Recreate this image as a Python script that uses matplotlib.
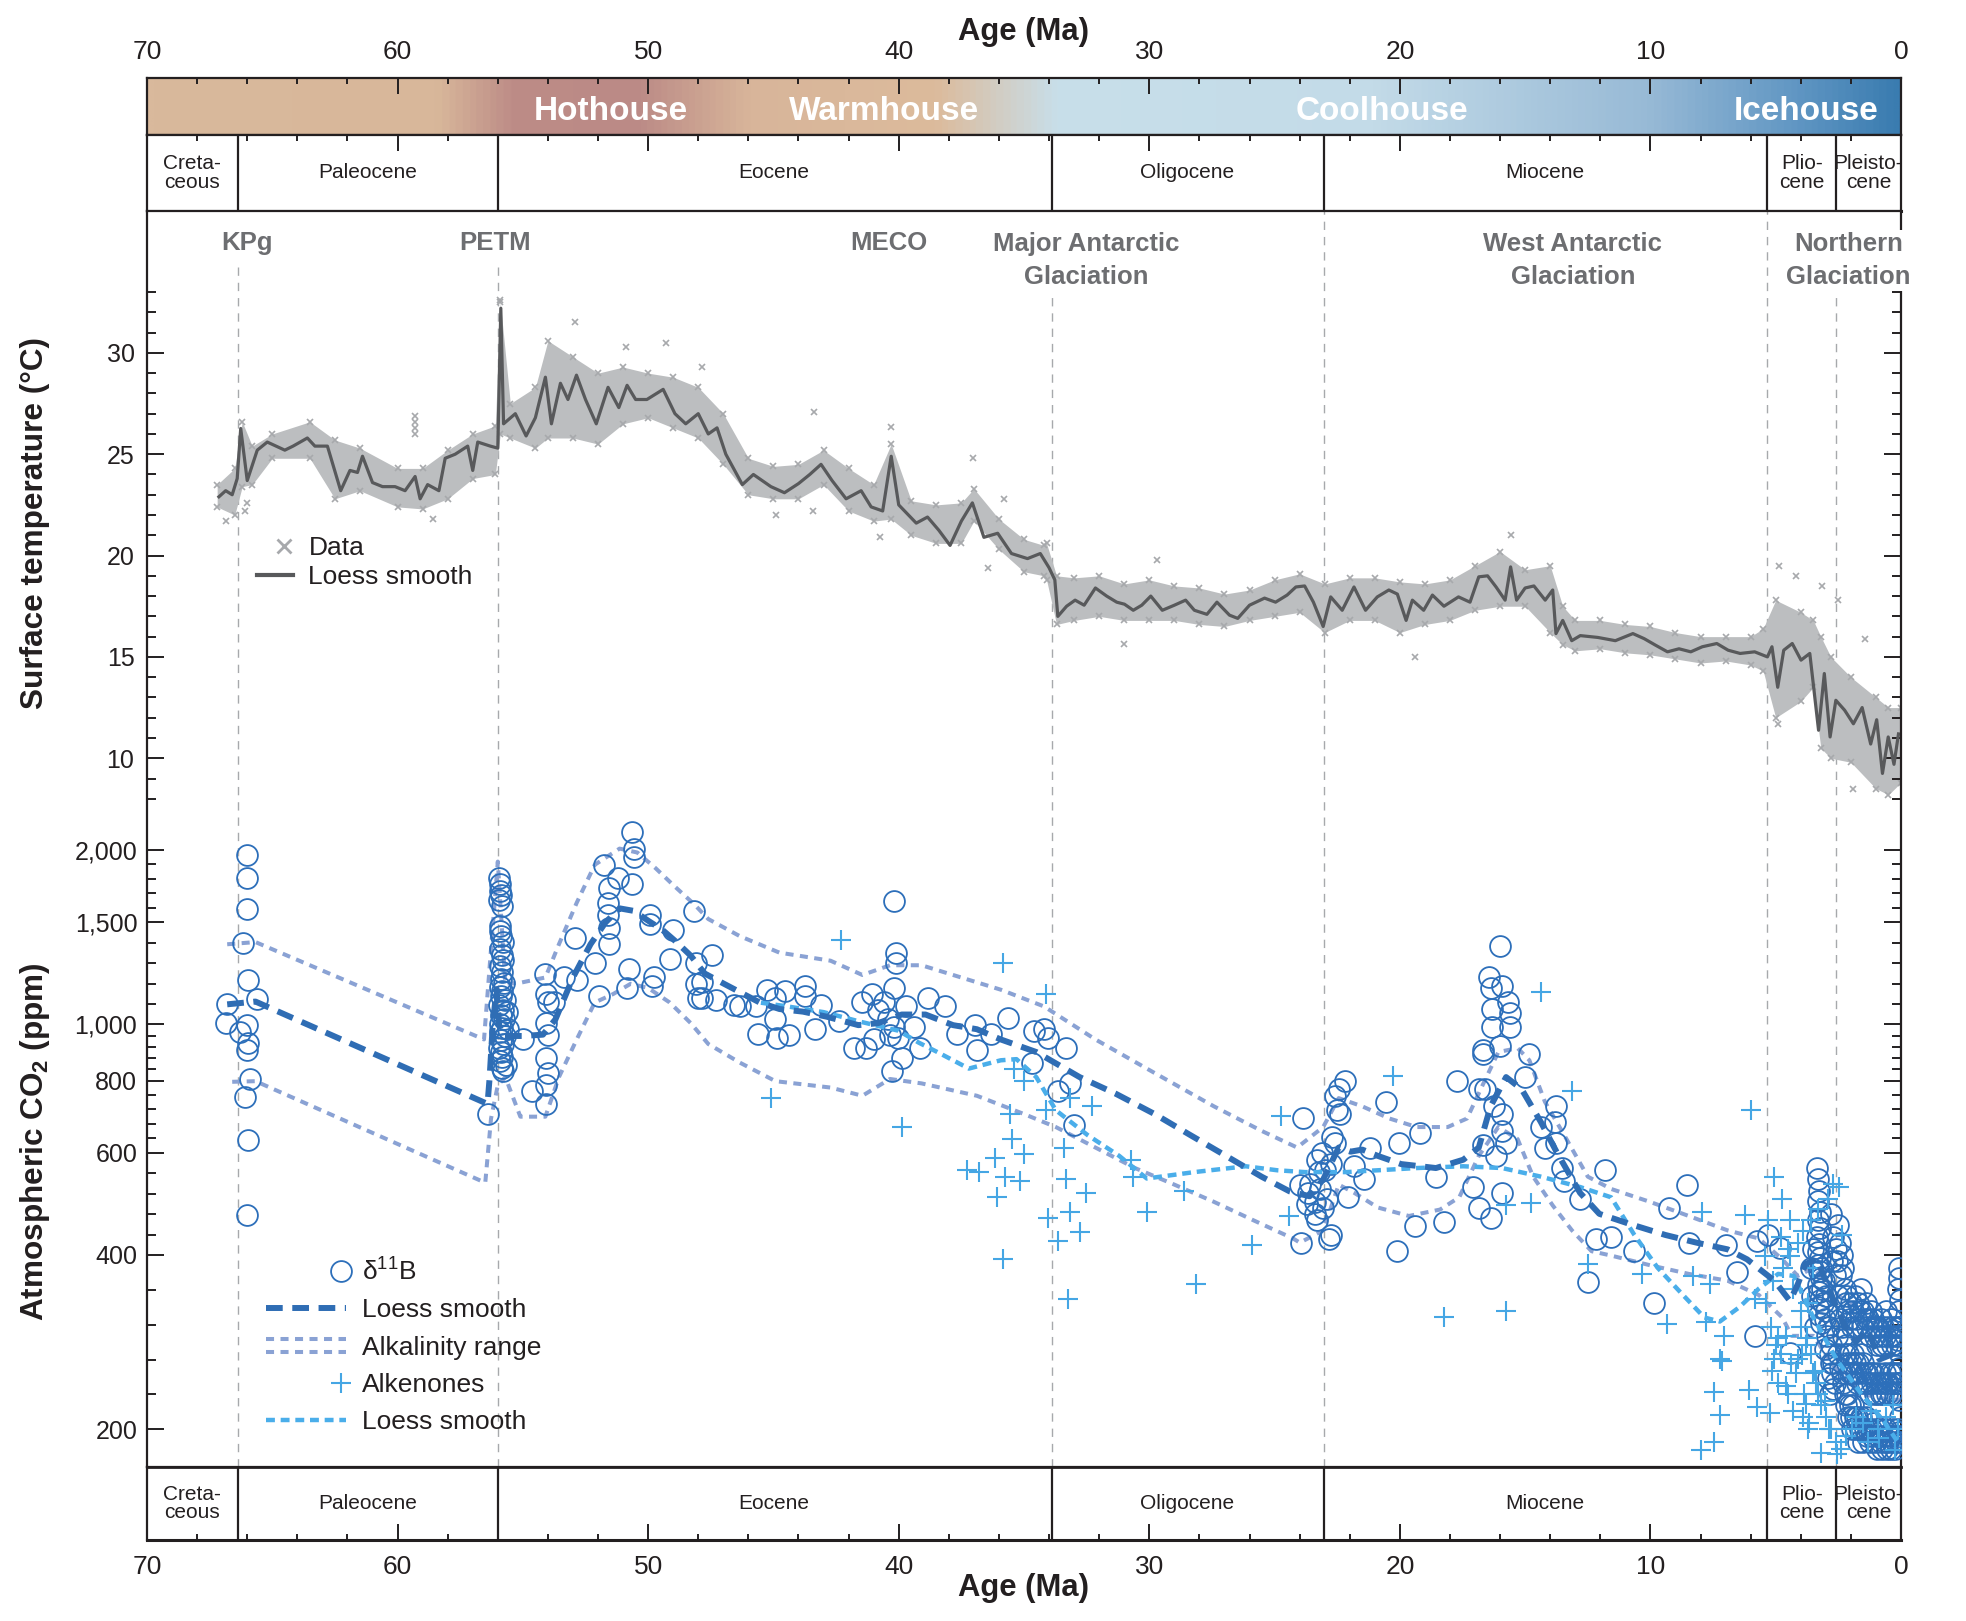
import matplotlib
matplotlib.use("Agg")
import matplotlib.pyplot as plt
import numpy as np
from matplotlib.colors import LinearSegmentedColormap
from matplotlib.legend_handler import HandlerBase
from matplotlib.lines import Line2D
from matplotlib.ticker import FixedLocator, FixedFormatter, NullFormatter

plt.rcParams['font.family'] = ['Liberation Sans', 'DejaVu Sans']
plt.rcParams['mathtext.fontset'] = 'custom'
plt.rcParams['mathtext.rm'] = 'Liberation Sans'
plt.rcParams['mathtext.it'] = 'Liberation Sans:italic'
plt.rcParams['mathtext.bf'] = 'Liberation Sans:bold'

# ---------------- data ----------------
epoch_bounds = [66.35, 56.0, 33.9, 23.03, 5.33, 2.58]
epoch_names = [(68.2, 'Creta-\nceous'), (61.2, 'Paleocene'), (45.0, 'Eocene'),
               (28.5, 'Oligocene'), (14.2, 'Miocene'), (3.95, 'Plio-\ncene'),
               (1.3, 'Pleisto-\ncene')]
climate_states = [(51.5, 'Hothouse'), (40.6, 'Warmhouse'), (20.7, 'Coolhouse'), (3.8, 'Icehouse')]
events = [(66.0, 35.4, 'KPg'), (56.1, 35.4, 'PETM'), (40.4, 35.4, 'MECO'),
          (32.5, 34.55, 'Major Antarctic\nGlaciation'), (13.1, 34.55, 'West Antarctic\nGlaciation'),
          (2.1, 34.55, 'Northern\nGlaciation')]
# top of the dashed guide lines (deg C units)
guide_tops = [34.4, 34.4, 32.8, 37.0, 37.0, 32.8]

temp_loess = [
    (67.13, 22.9), (66.86, 23.2), (66.6, 23.0), (66.4, 23.8), (66.26, 26.27), (66.0, 23.7), (65.6, 25.2),
    (65.2, 25.6), (64.85, 25.4), (64.5, 25.2), (64.17, 25.4), (63.6, 25.8), (63.3, 25.4), (62.8, 25.4),
    (62.27, 23.2), (61.9, 24.2), (61.6, 24.1), (61.4, 24.9), (61.0, 23.6), (60.6, 23.4), (60.1, 23.4),
    (59.7, 23.2), (59.3, 23.9), (59.1, 22.8), (58.8, 23.5), (58.35, 23.2), (58.1, 24.8), (57.7, 25.0),
    (57.2, 25.4), (57.0, 24.2), (56.8, 25.6), (56.3, 25.4), (56.0, 25.3), (55.88, 32.2), (55.77, 26.5),
    (55.3, 27.0), (54.87, 25.9), (54.5, 26.8), (54.1, 28.8), (53.86, 26.5), (53.5, 28.5), (53.2, 27.7),
    (52.86, 28.9), (52.5, 27.7), (52.07, 26.5), (51.6, 28.3), (51.17, 27.3), (50.84, 28.4), (50.5, 27.7),
    (50.05, 27.7), (49.4, 28.2), (48.93, 27.0), (48.5, 26.5), (48.0, 27.0), (47.6, 26.0), (47.25, 26.3),
    (46.9, 25.0), (46.24, 23.5), (45.8, 24.0), (45.1, 23.4), (44.56, 23.1), (44.0, 23.55), (43.55, 24.0),
    (43.1, 24.5), (42.66, 23.7), (42.1, 22.8), (41.5, 23.2), (41.1, 22.4), (40.64, 22.2), (40.3, 24.9),
    (40.0, 22.5), (39.3, 21.6), (38.85, 21.9), (38.4, 21.25), (37.95, 20.5), (37.5, 21.7), (37.06, 22.6),
    (36.6, 20.9), (36.05, 21.1), (35.5, 20.1), (34.86, 19.85), (34.35, 20.1), (34.0, 19.4), (33.77, 18.8),
    (33.65, 17.0), (33.3, 17.5), (32.96, 17.8), (32.6, 17.55), (32.15, 18.4), (31.7, 18.0), (31.3, 17.7),
    (30.99, 17.6), (30.64, 17.3), (30.3, 17.55), (29.94, 18.0), (29.48, 17.3), (29.0, 17.55), (28.55, 17.8),
    (28.2, 17.3), (27.7, 17.1), (27.3, 17.7), (26.8, 17.06), (26.47, 16.9), (26.0, 17.55), (25.4, 17.9),
    (24.96, 17.7), (24.5, 18.05), (24.15, 18.45), (23.8, 18.5), (23.45, 17.7), (23.06, 16.5), (22.76, 17.96),
    (22.3, 17.3), (21.83, 18.45), (21.37, 17.3), (20.9, 17.96), (20.44, 18.3), (20.1, 18.1), (19.75, 16.8),
    (19.5, 17.8), (19.05, 17.3), (18.7, 18.05), (18.24, 17.5), (17.66, 17.96), (17.2, 17.7), (16.85, 18.95),
    (16.5, 19.0), (16.16, 18.45), (15.8, 17.8), (15.58, 19.44), (15.34, 17.8), (15.0, 18.4), (14.65, 18.5),
    (14.2, 17.8), (13.9, 18.3), (13.77, 16.15), (13.5, 16.8), (13.14, 15.8), (12.8, 16.05), (12.1, 15.96),
    (11.4, 15.8), (10.7, 16.15), (10.25, 15.9), (9.8, 15.58), (9.32, 15.25), (8.86, 15.4), (8.39, 15.25),
    (7.93, 15.5), (7.35, 15.66), (6.9, 15.33), (6.42, 15.17), (5.84, 15.25), (5.33, 15.0), (5.15, 15.5),
    (4.92, 13.5), (4.68, 15.33), (4.34, 15.66), (3.99, 14.84), (3.64, 15.17), (3.29, 11.38), (3.06, 14.18),
    (2.83, 11.05), (2.6, 12.86), (2.25, 12.37), (1.9, 11.7), (1.55, 12.5), (1.21, 10.7), (0.97, 11.9),
    (0.74, 9.25), (0.51, 11.05), (0.28, 9.7), (0.1, 11.2)]

# spread of the individual temperature data (age, lowest, highest)
temp_cloud = [
    (67.2, 22.4, 23.5), (66.5, 22.0, 24.3), (66.2, 23.4, 26.6), (65.8, 23.5, 25.4), (65.0, 24.8, 26.0),
    (63.5, 24.8, 26.6), (62.5, 22.8, 25.7), (61.5, 23.2, 25.3), (60.0, 22.4, 24.3), (59.0, 22.3, 24.3),
    (58.0, 22.8, 25.2), (57.0, 23.8, 26.0), (56.1, 24.0, 26.4), (55.9, 26.0, 32.5), (55.5, 25.8, 27.5),
    (54.5, 25.3, 28.3), (54.0, 25.8, 30.6), (53.0, 25.8, 29.8), (52.0, 25.5, 29.0), (51.0, 26.5, 29.3),
    (50.0, 26.8, 29.0), (49.0, 26.3, 28.8), (48.0, 25.8, 28.3), (47.0, 24.5, 27.0), (46.0, 23.0, 24.8),
    (45.0, 22.8, 24.4), (44.0, 22.8, 24.5), (43.0, 23.5, 25.2), (42.0, 22.2, 24.3), (41.0, 21.7, 23.5),
    (40.3, 21.8, 25.5), (39.5, 21.0, 22.7), (38.5, 20.6, 22.5), (37.5, 20.6, 22.6), (37.0, 21.7, 23.3),
    (36.0, 20.3, 21.8), (35.0, 19.2, 20.8), (34.2, 19.0, 20.5), (34.1, 18.8, 20.6), (33.7, 16.6, 19.0),
    (33.0, 16.8, 18.9), (32.0, 17.0, 19.0), (31.0, 16.8, 18.6), (30.0, 16.8, 18.8), (29.0, 16.8, 18.5),
    (28.0, 16.6, 18.4), (27.0, 16.5, 18.1), (26.0, 16.8, 18.3), (25.0, 17.0, 18.8), (24.0, 17.2, 19.1),
    (23.0, 16.2, 18.6), (22.0, 16.8, 18.9), (21.0, 16.8, 18.9), (20.0, 16.2, 18.7), (19.0, 16.6, 18.6),
    (18.0, 16.8, 18.8), (17.0, 17.3, 19.5), (16.0, 17.5, 20.2), (15.0, 17.5, 19.3), (14.0, 16.2, 19.5),
    (13.5, 15.6, 17.5), (13.0, 15.3, 16.8), (12.0, 15.4, 16.8), (11.0, 15.2, 16.6), (10.0, 15.1, 16.5),
    (9.0, 14.9, 16.2), (8.0, 14.7, 16.0), (7.0, 14.8, 16.0), (6.0, 14.6, 16.0), (5.5, 14.3, 16.4),
    (5.0, 12.0, 17.8), (4.0, 12.8, 17.2), (3.5, 13.5, 16.8), (3.2, 10.5, 16.0), (2.8, 10.0, 15.0),
    (2.0, 9.8, 14.0), (1.0, 8.5, 13.0), (0.5, 8.2, 12.5), (0.0, 8.8, 12.5)]

temp_outliers = [
    (66.86, 21.7), (66.08, 22.2), (66.0, 22.6), (59.3, 26.9), (59.3, 26.6), (59.3, 26.3), (59.3, 26.0),
    (58.57, 21.8), (55.9, 32.6), (52.9, 31.5), (50.9, 30.3), (49.27, 30.5), (47.86, 29.3), (43.4, 27.1),
    (40.3, 26.35), (37.05, 24.8), (35.8, 22.8), (44.9, 22.0), (43.44, 22.2), (40.75, 20.9), (36.45, 19.4),
    (31.0, 15.65), (29.7, 19.8), (19.4, 15.0), (15.58, 21.0), (4.85, 19.5), (4.2, 19.0), (3.17, 18.5),
    (1.9, 8.5), (4.9, 11.7), (2.5, 17.8), (1.44, 15.9)]

d11b_pts = [
    (66.0, 1960), (66.0, 1790), (66.0, 1580), (66.17, 1380), (65.98, 1195), (66.8, 1083), (65.6, 1107),
    (66.83, 1005), (66.3, 970), (66.0, 997), (65.95, 929), (66.02, 904), (65.88, 805), (66.1, 750),
    (65.95, 632), (66.0, 468),
    (56.4, 700), (55.95, 1790), (55.9, 1750), (55.92, 1700), (55.88, 1670), (55.95, 1640), (55.85, 1600),
    (55.9, 1480), (55.93, 1450), (55.87, 1420), (55.8, 1390), (55.9, 1350), (55.85, 1320), (55.78, 1290),
    (55.92, 1260), (55.83, 1230), (55.88, 1200), (55.75, 1180), (55.9, 1160), (55.82, 1140), (55.86, 1120),
    (55.7, 1100), (55.95, 1080), (55.8, 1060), (55.88, 1040), (55.76, 1020), (55.92, 1000), (55.84, 985),
    (55.9, 970), (55.72, 955), (55.86, 940), (55.8, 925), (55.94, 910), (55.88, 895), (55.82, 880),
    (55.9, 865), (55.68, 850), (55.85, 840), (55.78, 830), (55.65, 1050), (55.6, 980),
    (55.0, 944), (54.63, 766), (54.13, 1224), (54.06, 1128), (54.0, 1091), (54.06, 1005), (54.0, 957),
    (54.06, 874), (54.0, 824), (54.06, 785), (54.06, 729), (53.77, 1091), (53.34, 1205), (52.9, 1410),
    (52.85, 1195), (52.13, 1276), (51.96, 1119), (51.78, 1886), (51.56, 1718), (51.6, 1622), (51.6, 1542),
    (51.56, 1375), (51.56, 1468), (51.2, 1790), (50.64, 2147), (50.57, 2011), (50.57, 1945), (50.64, 1747),
    (50.78, 1245), (50.85, 1156), (49.92, 1542), (49.92, 1492), (49.78, 1205), (49.85, 1166), (49.14, 1298),
    (49.0, 1456), (48.15, 1570), (48.08, 1276), (48.08, 1175), (48.0, 1110),
    (47.45, 1318), (47.84, 1185), (47.84, 1110), (47.29, 1101), (46.58, 1082), (46.34, 1074), (45.7, 1074),
    (45.24, 1148), (44.92, 1110), (44.53, 1140), (44.92, 1021), (45.63, 964), (44.84, 948), (44.37, 957),
    (43.74, 1166), (43.74, 1119), (43.11, 1082), (43.35, 981), (42.4, 1014), (41.45, 1091), (41.06, 1128),
    (40.19, 1634), (40.11, 1330), (40.11, 1276), (40.19, 1156), (40.59, 1091), (40.82, 1057), (40.43, 1021),
    (40.19, 989), (40.35, 957), (40.03, 948), (40.98, 942), (41.3, 910), (41.77, 910), (39.72, 1074),
    (39.4, 989), (39.17, 910), (39.88, 874), (40.27, 832), (38.85, 1110), (38.14, 1074), (37.67, 964),
    (36.96, 996), (36.88, 905), (36.33, 964), (35.62, 1026), (34.59, 973), (34.2, 981), (34.04, 948),
    (33.33, 910), (34.67, 859), (33.65, 766), (33.17, 791), (33.02, 671),
    (23.87, 688), (23.95, 420), (23.99, 529), (23.68, 512), (23.37, 494), (23.06, 483), (22.75, 433),
    (22.83, 427), (23.29, 584), (23.21, 556), (22.75, 574), (22.6, 624), (22.52, 711), (22.59, 753),
    (22.2, 798), (22.44, 773), (21.82, 569), (21.43, 542), (21.2, 613), (22.05, 503), (20.57, 735),
    (20.03, 624), (20.11, 406), (19.41, 448), (19.18, 650), (18.56, 546), (18.25, 456), (17.7, 798),
    (16.85, 773), (16.7, 904), (16.46, 1205), (15.99, 1365), (16.38, 1156), (15.92, 1166), (16.31, 1065),
    (15.69, 1091), (15.61, 1047), (16.31, 989), (15.61, 989), (15.99, 918), (16.7, 889), (14.83, 889),
    (14.99, 811), (16.62, 773), (16.23, 722), (15.92, 700), (15.92, 655), (15.76, 624), (16.15, 593),
    (16.7, 618), (17.08, 524), (16.85, 483), (16.38, 463), (15.92, 512), (13.75, 722), (13.82, 678),
    (13.75, 624), (13.51, 565), (13.44, 537), (12.81, 499), (14.21, 613), (14.37, 665), (11.81, 560),
    (12.19, 427), (12.5, 359), (11.57, 430), (10.64, 406), (9.87, 330), (9.24, 483), (8.55, 529),
    (8.47, 420), (6.99, 416), (6.53, 374), (5.83, 290), (5.75, 423), (5.29, 433), (4.82, 412), (4.43, 271),
    (23.6, 530), (23.4, 470), (23.2, 520), (23.0, 560), (22.9, 500), (23.3, 460), (23.7, 490), (23.1, 600),
    (22.7, 640), (22.4, 700),
    (3.35, 565), (3.3, 540), (3.28, 515), (3.32, 495), (3.25, 475), (3.3, 460), (3.22, 445), (3.34, 430),
    (3.27, 418), (3.3, 405), (3.24, 395), (3.31, 385), (3.26, 375), (3.2, 365), (3.33, 355), (3.28, 345),
    (3.23, 335), (3.3, 325), (3.26, 315), (3.21, 305), (3.18, 380), (3.15, 350), (3.1, 330), (3.05, 310),
    (3.0, 320), (2.95, 290), (2.9, 300), (2.85, 270), (2.8, 280), (2.75, 250), (2.7, 260), (2.65, 240),
    (3.08, 360), (2.98, 340), (2.88, 300), (2.78, 260), (2.72, 235), (3.02, 275), (2.92, 245), (2.82, 230),
    (3.5, 410), (3.6, 380), (3.45, 300), (3.55, 340), (2.8, 470), (2.7, 430), (2.6, 410), (2.75, 390),
    (2.65, 370), (2.5, 450), (2.45, 420), (2.55, 390), (2.4, 370), (2.5, 340), (2.45, 310), (2.55, 290),
    (2.5, 270), (2.45, 255)]

pleist_age = [2.35, 2.3, 2.25, 2.2, 2.15, 2.1, 2.05, 2.0, 1.95, 1.9, 1.85, 1.8, 1.75, 1.7, 1.65, 1.6,
              1.55, 1.5, 1.45, 1.4, 1.35, 1.3, 1.25, 1.2, 1.15, 1.1, 1.05, 1.0, 0.95, 0.9, 0.85, 0.8,
              0.75, 0.7, 0.65, 0.6, 0.55, 0.5, 0.45, 0.4, 0.35, 0.3, 0.25, 0.2, 0.15, 0.1, 0.05, 0.02]
pleist_high = [400, 380, 350, 330, 340, 320, 310, 330, 300, 320, 340, 310, 300, 330, 320, 350,
               300, 320, 310, 330, 300, 310, 290, 320, 300, 310, 290, 300, 280, 300, 290, 310,
               280, 300, 290, 320, 280, 300, 290, 310, 280, 300, 290, 280, 300, 290, 300, 280]
pleist_mid = [300, 290, 270, 280, 260, 270, 250, 260, 250, 270, 260, 250, 240, 260, 250, 270,
              240, 260, 250, 240, 250, 240, 230, 250, 240, 250, 230, 240, 230, 250, 240, 230,
              240, 230, 250, 240, 230, 240, 250, 230, 240, 250, 230, 240, 250, 240, 250, 240]
pleist_low = [250, 240, 230, 220, 230, 210, 220, 210, 200, 220, 210, 200, 210, 190, 200, 210,
              200, 190, 200, 210, 195, 200, 190, 200, 195, 205, 190, 200, 185, 195, 200, 190,
              185, 195, 190, 200, 185, 190, 195, 185, 190, 200, 185, 190, 195, 200, 190, 195]
recent_pts = [(0.08, 380), (0.06, 365), (0.1, 350), (0.04, 335), (0.08, 320), (0.05, 300), (0.1, 285),
              (0.03, 270), (0.07, 255), (0.05, 240), (0.09, 225), (0.04, 210), (0.06, 198)]

d11b_loess = [
    (66.8, 1083), (65.67, 1095), (56.41, 729), (56.33, 805), (56.2, 1000), (56.05, 1150), (55.95, 1000),
    (55.8, 955), (55.0, 955), (54.2, 960), (53.7, 1020), (53.0, 1205), (52.3, 1375), (51.7, 1500),
    (51.14, 1586), (50.57, 1570), (50.0, 1510), (49.43, 1456), (48.87, 1387), (48.3, 1314), (47.74, 1224),
    (46.97, 1175), (45.55, 1091), (44.76, 1063), (43.82, 1052), (42.87, 1031), (41.61, 997), (40.82, 1005),
    (39.88, 1040), (38.93, 1040), (37.83, 997), (36.88, 981), (35.93, 942), (34.51, 896), (32.78, 811),
    (31.36, 760), (29.78, 700), (28.36, 644), (26.94, 593), (25.52, 546), (24.4, 515), (23.6, 505),
    (23.06, 540), (22.44, 613), (21.97, 603), (21.5, 608), (20.88, 593), (19.95, 574), (18.56, 565),
    (17.47, 584), (16.85, 613), (16.38, 722), (15.76, 811), (15.14, 773), (14.37, 678), (13.75, 603),
    (12.81, 512), (12.04, 471), (10.8, 452), (9.4, 433), (8.16, 420), (6.92, 409), (6.14, 393),
    (5.05, 361), (4.43, 333), (4.12, 356), (3.81, 386), (3.35, 393), (2.88, 350), (2.26, 302), (1.8, 283),
    (1.33, 297), (0.86, 264), (0.4, 269), (0.01, 264)]

alk_upper = [
    (66.8, 1375), (65.67, 1387), (56.55, 942), (56.0, 1910), (55.7, 1175), (55.1, 1180), (54.1, 1205),
    (53.56, 1375), (52.85, 1622), (52.13, 1886), (51.14, 2011), (50.43, 1980), (49.7, 1860), (49.0, 1740),
    (48.15, 1610), (47.6, 1520), (46.34, 1420), (44.76, 1330), (42.72, 1288), (41.45, 1217), (40.35, 1265),
    (39.09, 1265), (37.83, 1217), (35.93, 1148), (34.2, 1074), (32.15, 942), (29.78, 824), (27.42, 722),
    (25.52, 655), (24.1, 613), (23.06, 665), (22.44, 746), (21.5, 722), (20.42, 688), (19.33, 665),
    (18.09, 665), (17.32, 688), (16.7, 785), (16.07, 896), (15.3, 910), (14.83, 867), (14.21, 735),
    (13.44, 644), (12.5, 546), (11.57, 520), (10.02, 494), (8.47, 467), (6.92, 441), (5.67, 427),
    (4.74, 393), (4.12, 368), (3.5, 380), (2.5, 340), (1.5, 320), (0.5, 300), (0.0, 300)]

alk_lower = [
    (66.6, 796), (65.67, 798), (56.5, 533), (56.27, 688), (56.0, 785), (55.7, 811), (55.1, 693), (54.1, 693),
    (53.56, 811), (52.85, 942), (52.13, 1091), (51.4, 1128), (50.7, 1175), (50.0, 1156), (49.14, 1091),
    (48.3, 1005), (47.6, 925), (46.34, 859), (44.92, 798), (42.72, 778), (41.45, 753), (40.35, 805),
    (39.09, 791), (36.88, 753), (34.99, 700), (33.73, 665), (32.15, 613), (30.57, 565), (29.0, 529),
    (27.42, 494), (25.84, 459), (24.26, 427), (23.99, 420), (23.06, 441), (22.44, 529), (21.82, 512),
    (20.88, 483), (19.64, 467), (18.4, 479), (17.63, 503), (16.85, 593), (16.07, 665), (15.3, 634),
    (14.68, 546), (13.9, 487), (13.13, 441), (12.35, 406), (11.57, 399), (10.02, 384), (8.47, 371),
    (6.92, 361), (5.67, 341), (4.74, 312), (4.36, 290), (3.5, 290), (2.5, 250), (1.5, 230), (0.5, 225),
    (0.0, 225)]

alkenone_pts = [
    (42.32, 1397), (45.08, 746), (39.88, 665), (35.85, 1276), (34.12, 1128), (35.38, 839), (34.99, 798),
    (35.54, 700), (35.46, 634), (36.17, 589), (34.99, 598), (37.27, 560), (36.8, 556), (35.77, 546),
    (35.14, 537), (36.09, 503), (34.12, 711), (33.41, 613), (33.17, 746), (32.3, 722), (33.33, 542),
    (32.54, 512), (34.04, 463), (33.17, 475), (32.78, 438), (33.65, 423), (35.85, 393), (33.25, 336),
    (30.73, 584), (30.65, 546), (30.1, 475), (28.6, 515), (28.12, 356), (25.92, 416), (24.73, 694),
    (24.42, 467),
    (20.26, 813), (14.37, 1137), (13.13, 766), (5.99, 711), (15.76, 487), (14.75, 491), (18.25, 312),
    (15.76, 320), (12.5, 386), (10.33, 371), (9.32, 304), (8.32, 368), (7.62, 356), (7.93, 475), (6.22, 468),
    (7.77, 307), (7.07, 290), (7.23, 264), (7.15, 262), (7.46, 232), (7.23, 212), (7.46, 190), (8.0, 184),
    (6.06, 234), (5.75, 219), (5.21, 213), (5.05, 546), (4.74, 499), (4.43, 459), (4.12, 420), (5.44, 399),
    (5.83, 336), (5.05, 264), (5.13, 252), (4.59, 238), (3.89, 230), (3.66, 205), (3.19, 182), (2.57, 181),
    (2.49, 524), (2.34, 433), (3.97, 269), (3.42, 252), (3.04, 224), (2.88, 200), (4.9, 287), (4.43, 399),
    (4.12, 264), (3.74, 287), (3.81, 221), (1.95, 200), (1.33, 190), (0.86, 193), (0.24, 184),
    (5.2, 300), (5.0, 280), (4.8, 270), (4.6, 290), (4.4, 260), (4.2, 250), (4.0, 300), (3.8, 280),
    (3.6, 270), (3.5, 250), (3.4, 240), (3.3, 230), (3.2, 220), (3.0, 210), (2.8, 200), (2.6, 190),
    (4.9, 240), (4.5, 230), (4.3, 215), (3.9, 210), (3.7, 200), (2.4, 185), (2.2, 195), (1.8, 210),
    (1.5, 205), (1.2, 215), (0.9, 200), (0.6, 210), (0.3, 220), (0.1, 200), (5.4, 330), (5.1, 360),
    (4.7, 380), (4.5, 410), (4.3, 350), (4.0, 320), (3.7, 330), (3.5, 380), (3.9, 440), (3.6, 460),
    (3.3, 480), (2.9, 500), (2.7, 530), (5.3, 460), (4.8, 430)]

alkenone_loess = [
    (45.5, 1090), (44.5, 1075), (43.0, 1050), (41.5, 1010), (40.0, 975), (39.2, 930), (38.46, 896),
    (37.2, 839), (35.93, 867), (35.3, 871), (34.51, 811), (33.73, 711), (32.46, 644), (31.2, 593),
    (30.1, 542), (28.2, 556), (26.15, 569), (24.89, 560), (23.79, 556), (22.13, 556), (19.33, 565),
    (17.47, 569), (15.92, 565), (14.37, 546), (12.81, 524), (11.57, 503), (10.64, 433), (9.71, 380),
    (8.78, 344), (7.85, 312), (7.23, 307), (6.45, 325), (5.67, 350), (4.9, 371), (4.28, 368), (3.5, 312),
    (2.57, 264), (1.64, 232), (0.71, 207), (0.01, 187)]

co2_ticks = [200, 400, 600, 800, 1000, 1500, 2000]
co2_labels = ['200', '400', '600', '800', '1,000', '1,500', '2,000']

# ---------------- styles ----------------
INK = '#231f20'
GREY_TXT = '#6d6e71'
C_TDATA = '#a7a9ac'
C_TLINE = '#58595b'
C_CIRC = '#2d6fba'
C_ALK = '#8aa2d4'
C_PLUS = '#45a6e4'
C_PLOESS = '#4aaeea'

fig = plt.figure(figsize=(19.66, 16.21), dpi=100)
L, W = 147 / 1966, (1901 - 147) / 1966
H = 1621.0

def box(top, bottom):
    return [L, 1 - bottom / H, W, (bottom - top) / H]

ax_band = fig.add_axes(box(78, 135))
ax_ep1 = fig.add_axes(box(135, 211))
ax_t = fig.add_axes(box(211, 1467))
ax_c = fig.add_axes(box(211, 1467), sharex=ax_t)
ax_ep2 = fig.add_axes(box(1467, 1540))

for ax in (ax_band, ax_ep1, ax_t, ax_c, ax_ep2):
    ax.set_xlim(70, 0)
    for s in ax.spines.values():
        s.set_linewidth(1.6)
        s.set_color(INK)

# climate-state band
stops = [(70, '#d9b99c'), (58.5, '#d8b79a'), (55.5, '#bd8c87'), (50.5, '#bb8a86'), (46, '#d8b59a'),
         (38.5, '#dcbb9c'), (33.6, '#c8dfea'), (21, '#c3dbe8'), (10, '#98bad6'), (4, '#6096c3'),
         (0, '#3a7cb0')]
cmap = LinearSegmentedColormap.from_list('climate', [((70 - a) / 70, c) for a, c in stops])
ax_band.imshow(np.linspace(0, 1, 1200)[None, :], extent=[70, 0, 0, 1], aspect='auto', cmap=cmap)
ax_band.set_xlim(70, 0)
ax_band.set_ylim(0, 1)
ax_band.set_yticks([])
for age, name in climate_states:
    ax_band.text(age, 0.42, name, ha='center', va='center', color='white', fontsize=24,
                 fontweight='bold')

def xticks(ax, where):
    ax.xaxis.set_major_locator(FixedLocator(range(0, 71, 10)))
    ax.xaxis.set_minor_locator(FixedLocator(range(0, 71, 2)))
    ax.tick_params(axis='x', which='both', direction='in', width=1.4, color=INK,
                   top=(where == 'top'), bottom=(where == 'bottom'),
                   labeltop=False, labelbottom=False)
    ax.tick_params(axis='x', which='major', length=11.5)
    ax.tick_params(axis='x', which='minor', length=4.3)

xticks(ax_band, 'top')
ax_band.tick_params(axis='x', labeltop=True, labelsize=19, pad=10, labelcolor=INK)
xticks(ax_ep1, 'top')
xticks(ax_ep2, 'bottom')
ax_ep2.tick_params(axis='x', labelbottom=True, labelsize=19, pad=11, labelcolor=INK)
ax_ep1.spines['bottom'].set_linewidth(2.2)
ax_ep2.spines['bottom'].set_linewidth(2.2)
ax_ep2.spines['top'].set_linewidth(2.0)

for ax in (ax_ep1, ax_ep2):
    ax.set_ylim(0, 1)
    ax.set_yticks([])
    ax.vlines(epoch_bounds, 0, 1, color=INK, lw=1.6)
    for age, name in epoch_names:
        ax.text(age, 0.5, name, ha='center', va='center', fontsize=15, color=INK,
                linespacing=1.0)

fig.text((147 + 1901) / 2 / 1966, 1 - 32 / H, 'Age (Ma)', ha='center', va='center',
         fontsize=22.3, fontweight='bold', color=INK)
fig.text((147 + 1901) / 2 / 1966, 1 - 1588 / H, 'Age (Ma)', ha='center', va='center',
         fontsize=22.3, fontweight='bold', color=INK)

# ---------------- temperature ----------------
ax_t.set_ylim(-24.97, 37.0)
ax_t.tick_params(axis='x', which='both', bottom=False, top=False, labelbottom=False)
ax_t.yaxis.set_major_locator(FixedLocator([10, 15, 20, 25, 30]))
ax_t.yaxis.set_minor_locator(FixedLocator(list(range(8, 34))))
ax_t.tick_params(axis='y', which='both', direction='in', left=True, right=True, width=1.4,
                 color=INK, labelsize=18, pad=9, labelcolor=INK)
ax_t.tick_params(axis='y', which='major', length=12.2)
ax_t.tick_params(axis='y', which='minor', length=6.5)

for b, top in zip(epoch_bounds, guide_tops):
    ax_t.vlines(b, -24.97, top, color=C_TDATA, lw=1.0, linestyles=(0, (6, 5)), zorder=0.5)

cl_age = [r[0] for r in temp_cloud]
cl_lo = [r[1] for r in temp_cloud]
cl_hi = [r[2] for r in temp_cloud]
ax_t.fill_between(cl_age, cl_lo, cl_hi, color='#bcbec0', lw=0, zorder=1)
ax_t.plot(cl_age + cl_age, cl_lo + cl_hi, ls='none', marker='x', ms=5, mew=1.2, color=C_TDATA, zorder=1.2)
ax_t.plot([p[0] for p in temp_outliers], [p[1] for p in temp_outliers], ls='none', marker='x',
          ms=5, mew=1.2, color=C_TDATA, zorder=1.2)
ax_t.plot([p[0] for p in temp_loess], [p[1] for p in temp_loess], color=C_TLINE, lw=2.3, zorder=2)

for age, yv, name in events:
    ax_t.text(age, yv, name, ha='center', va='center', fontsize=18.5, fontweight='bold',
              color=GREY_TXT, linespacing=1.45, zorder=6,
              bbox=dict(fc='white', ec='none', pad=1.5))

# ---------------- CO2 ----------------
ax_c.patch.set_visible(False)
for s in ax_c.spines.values():
    s.set_visible(False)
ax_c.set_yscale('log')
ax_c.set_ylim(172.2, 25350)
co2_minor = []
for a, b in zip(co2_ticks[:-1], co2_ticks[1:]):
    co2_minor += [a * (b / a) ** (k / 5) for k in range(1, 5)]
ax_c.yaxis.set_major_locator(FixedLocator(co2_ticks))
ax_c.yaxis.set_major_formatter(FixedFormatter(co2_labels))
ax_c.yaxis.set_minor_locator(FixedLocator(co2_minor))
ax_c.yaxis.set_minor_formatter(NullFormatter())
ax_c.tick_params(axis='x', which='both', bottom=False, top=False, labelbottom=False)
ax_c.tick_params(axis='y', which='both', direction='in', left=True, right=True, width=1.4,
                 color=INK, labelsize=18, pad=7, labelcolor=INK)
ax_c.tick_params(axis='y', which='major', length=12.2)
ax_c.tick_params(axis='y', which='minor', length=6.5)

ax_c.plot([p[0] for p in alk_upper], [p[1] for p in alk_upper], color=C_ALK, lw=2.9,
          dashes=(2.0, 1.6), zorder=2)
ax_c.plot([p[0] for p in alk_lower], [p[1] for p in alk_lower], color=C_ALK, lw=2.9,
          dashes=(2.0, 1.6), zorder=2)

circ = dict(ls='none', marker='o', ms=15, mfc='none', mec=C_CIRC, mew=1.3, zorder=3)
ax_c.plot([p[0] for p in d11b_pts], [p[1] for p in d11b_pts], **circ)
for vals in (pleist_high, pleist_mid, pleist_low):
    ax_c.plot(pleist_age, vals, **circ)
ax_c.plot([p[0] for p in recent_pts], [p[1] for p in recent_pts], **circ)

ax_c.plot([p[0] for p in alkenone_pts], [p[1] for p in alkenone_pts], ls='none', marker='+',
          ms=15, mew=1.5, color=C_PLUS, zorder=3.5)
ax_c.plot([p[0] for p in alkenone_loess], [p[1] for p in alkenone_loess], color=C_PLOESS, lw=3.2,
          dashes=(2.0, 1.3), zorder=4)
ax_c.plot([p[0] for p in d11b_loess], [p[1] for p in d11b_loess], color='#2f6db4', lw=4.3,
          dashes=(2.8, 1.6), zorder=5)

# ---------------- legends ----------------
class MarkerRight(HandlerBase):
    """single marker drawn near the right end of the handle box"""
    def __init__(self, inset):
        super().__init__()
        self.inset = inset

    def create_artists(self, legend, orig, xdescent, ydescent, width, height, fontsize, trans):
        m = Line2D([-xdescent + width - self.inset * fontsize], [-ydescent + 0.5 * height],
                   ls='none', marker=orig.get_marker(), ms=orig.get_markersize(),
                   mfc=orig.get_markerfacecolor(), mec=orig.get_markeredgecolor(),
                   mew=orig.get_markeredgewidth())
        m.set_transform(trans)
        return [m]


class TwoLines(HandlerBase):
    def create_artists(self, legend, orig, xdescent, ydescent, width, height, fontsize, trans):
        arts = []
        for f in (0.85, 0.15):
            y = -ydescent + f * height
            ln = Line2D([-xdescent, -xdescent + width], [y, y], color=orig.get_color(),
                        lw=orig.get_linewidth(), dashes=(2.0, 1.6))
            ln.set_transform(trans)
            arts.append(ln)
        return arts


h_x = Line2D([], [], ls='none', marker='x', ms=10, mew=2.0, color=C_TDATA)
h_tl = Line2D([], [], color=C_TLINE, lw=3.0)
leg1 = ax_t.legend([h_x, h_tl], ['Data', 'Loess smooth'], loc='upper left',
                   bbox_to_anchor=(257 / 1966, 1 - 536 / H), bbox_transform=fig.transFigure,
                   frameon=False, borderpad=0, borderaxespad=0, handlelength=1.35,
                   handletextpad=0.6, labelspacing=0.18, fontsize=19,
                   handler_map={h_x: MarkerRight(0.32)})
for t in leg1.get_texts():
    t.set_color(INK)

h_c = Line2D([], [], ls='none', marker='o', ms=15, mfc='none', mec=C_CIRC, mew=1.3)
h_bl = Line2D([], [], color='#2f6db4', lw=4.3, dashes=(2.8, 1.6))
h_al = Line2D([], [], color=C_ALK, lw=2.9)
h_p = Line2D([], [], ls='none', marker='+', ms=15, mew=1.5, color=C_PLUS)
h_pl = Line2D([], [], color=C_PLOESS, lw=3.2, dashes=(2.0, 1.3))
leg2 = ax_c.legend([h_c, h_bl, h_al, h_p, h_pl],
                   [r'δ$^{11}$B', 'Loess smooth', 'Alkalinity range', 'Alkenones', 'Loess smooth'],
                   loc='upper left', bbox_to_anchor=(266 / 1966, 1 - 1258 / H),
                   bbox_transform=fig.transFigure, frameon=False, borderpad=0, borderaxespad=0,
                   handlelength=3.05, handletextpad=0.6, labelspacing=0.5, fontsize=19,
                   handler_map={h_c: MarkerRight(0.2), h_p: MarkerRight(0.2), h_al: TwoLines()})
for t in leg2.get_texts():
    t.set_color(INK)

fig.text(35 / 1966, 1 - 523 / H, 'Surface temperature (°C)', rotation=90, ha='center',
         va='center', fontsize=22.7, fontweight='bold', color=INK)
fig.text(35 / 1966, 1 - 1142 / H, r'Atmospheric CO$_\mathbf{2}$ (ppm)', rotation=90,
         ha='center', va='center', fontsize=22.7, fontweight='bold', color=INK)

fig.savefig('out.png', dpi=100)
